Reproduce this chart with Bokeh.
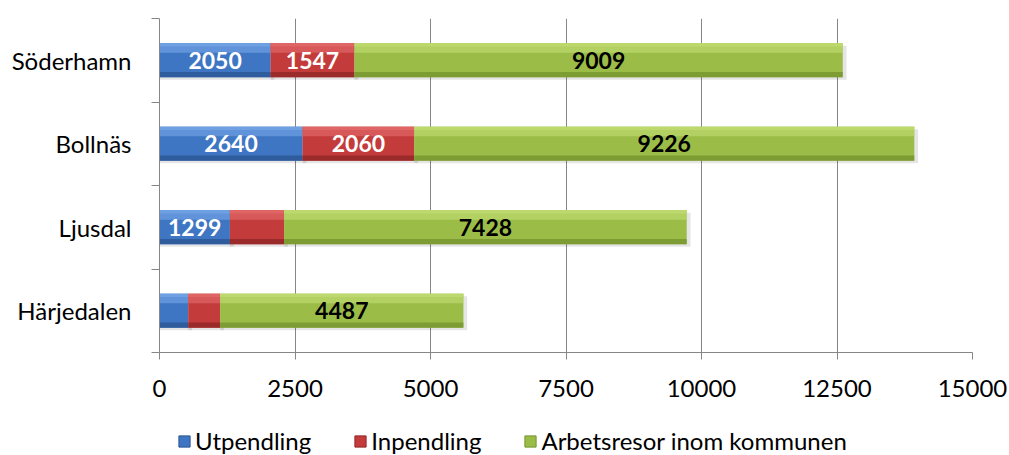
from bokeh.plotting import figure
from bokeh.layouts import column
from bokeh.models import FixedTicker, Legend, LegendItem, ColumnDataSource, Range1d
from bokeh.core.properties import value
from bokeh.embed import file_html
from bokeh.resources import INLINE

categories = ["Härjedalen", "Ljusdal", "Bollnäs", "Söderhamn"]
utpendling = [530, 1299, 2640, 2050]
inpendling = [590, 1000, 2060, 1547]
inom = [4487, 7428, 9226, 9009]
ut_labels = ["", "1299", "2640", "2050"]
in_labels = ["", "", "2060", "1547"]
inom_labels = ["4487", "7428", "9226", "9009"]
series_names = ["Utpendling", "Inpendling", "Arbetsresor inom kommunen"]
x_ticks = [0, 2500, 5000, 7500, 10000, 12500, 15000]

FONT = "Lato"
W = 1009
LEFT = 159
p = figure(width=W, height=410, output_backend="svg", toolbar_location=None,
           x_range=Range1d(0, 15000), y_range=Range1d(0, len(categories)),
           min_border_left=LEFT, min_border_right=W - LEFT - 813, min_border_top=18,
           min_border_bottom=58)
p.outline_line_color = None
p.background_fill_color = "white"
p.ygrid.grid_line_color = None
p.xgrid.grid_line_color = "#868686"
p.xgrid.ticker = FixedTicker(ticks=x_ticks)

ys = [i + 0.5 for i in range(len(categories))]
h = 0.41

styles = [
    ("#3f76c3", "#6fa0e2", "#2b5692"),
    ("#c33b3b", "#e06666", "#912727"),
    ("#9bbd48", "#bdd96e", "#75942e"),
]
lefts = [0] * 4
for k, vals in enumerate([utpendling, inpendling, inom]):
    base, light, dark = styles[k]
    rights = [l + v for l, v in zip(lefts, vals)]
    src = ColumnDataSource(dict(y=ys, left=lefts, right=rights))
    p.hbar(y=[y - 0.03 for y in ys], left=lefts, right=[r + 70 for r in rights], height=h,
           fill_color="#000000", fill_alpha=0.10, line_color=None)
    p.hbar(y="y", left="left", right="right", height=h, source=src,
           fill_color=base, line_color=None)
    p.hbar(y=[y + h * 0.36 for y in ys], left=lefts, right=rights, height=h * 0.28,
           fill_color=light, fill_alpha=0.7, line_color=None)
    p.hbar(y=[y + h * 0.45 for y in ys], left=lefts, right=rights, height=h * 0.1,
           fill_color=light, line_color=None)
    p.hbar(y=[y - h * 0.42 for y in ys], left=lefts, right=rights, height=h * 0.16,
           fill_color=dark, fill_alpha=0.8, line_color=None)
    lefts = rights

for k, (vals, labs, col) in enumerate([(utpendling, ut_labels, "white"),
                                       (inpendling, in_labels, "white"),
                                       (inom, inom_labels, "black")]):
    start = [0] * 4
    if k >= 1:
        start = [a + (0 if k == 1 else b) for a, b in zip(utpendling, inpendling)]
    xs = [s + v / 2 for s, v in zip(start, vals)]
    p.text(x=xs, y=ys, text=labs, text_align="center", text_baseline="middle",
           text_font=value(FONT), text_font_style="bold", text_font_size="23px",
           text_color=col)

p.xaxis.ticker = FixedTicker(ticks=x_ticks)
p.xaxis.axis_line_color = "#868686"
p.xaxis.major_tick_line_color = "#868686"
p.xaxis.major_tick_out = 7
p.xaxis.major_tick_in = 0
p.xaxis.minor_tick_line_color = None
p.xaxis.major_label_text_font = FONT
p.xaxis.major_label_text_font_size = "24px"
p.xaxis.major_label_text_color = "black"
p.xaxis.major_label_standoff = 20

p.yaxis.ticker = FixedTicker(ticks=ys, minor_ticks=list(range(len(categories) + 1)))
p.yaxis.major_label_overrides = {y: c for y, c in zip(ys, categories)}
p.yaxis.axis_line_color = "#868686"
p.yaxis.major_tick_line_color = None
p.yaxis.major_tick_out = 0
p.yaxis.major_tick_in = 0
p.yaxis.minor_tick_line_color = "#868686"
p.yaxis.minor_tick_out = 8
p.yaxis.minor_tick_in = 0
p.yaxis.major_label_text_font = FONT
p.yaxis.major_label_text_font_size = "24px"
p.yaxis.major_label_text_color = "black"
p.yaxis.major_label_standoff = 20

# legend strip below the chart (its frame is aligned with the chart frame)
p2 = figure(width=W, height=45, output_backend="svg", toolbar_location=None,
            x_range=Range1d(0, 1), y_range=Range1d(0, 1),
            min_border_left=LEFT, min_border_right=W - LEFT - 813,
            min_border_top=0, min_border_bottom=0)
p2.axis.visible = False
p2.grid.visible = False
p2.outline_line_color = None
dummies = []
for base, light, dark in styles:
    # a legend-only swatch renderer, its single point lies outside the visible range
    dummies.append(p2.rect(x=[-5], y=[-5], width=0.01, height=0.01,
                           fill_color=base, line_color=dark, line_width=1))
legend = Legend(items=[LegendItem(label=n, renderers=[r]) for n, r in zip(series_names, dummies)],
                orientation="horizontal", location=(177 - LEFT, 0),
                label_text_font=FONT, label_text_font_size="24px", label_text_color="black",
                glyph_width=14, glyph_height=14, label_standoff=4, spacing=42,
                border_line_color=None, background_fill_alpha=0, padding=0, margin=0)
p2.add_layout(legend)

layout = column(p, p2, spacing=0)
open("out.html", "w").write(file_html(layout, INLINE))
